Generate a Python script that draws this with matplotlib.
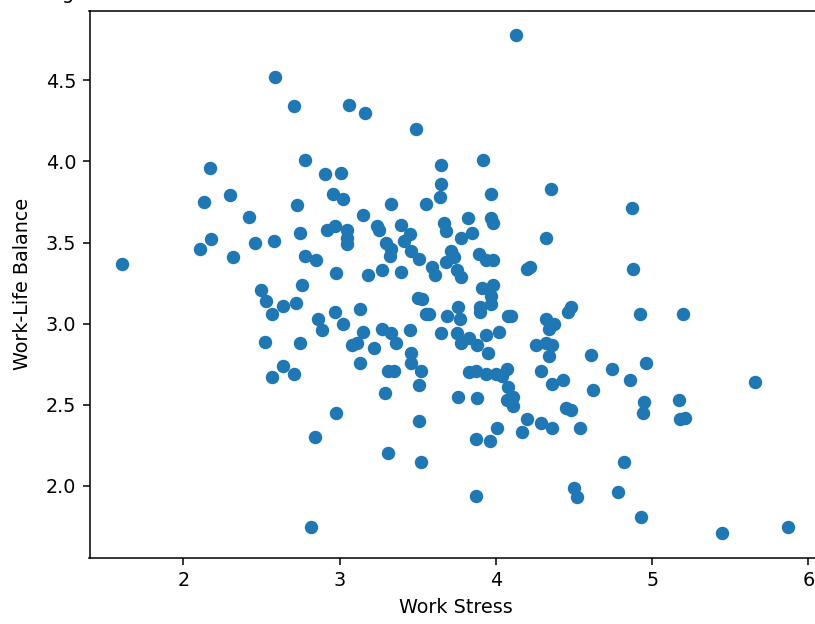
import numpy as np
import matplotlib
matplotlib.use("Agg")
import matplotlib.pyplot as plt

# valores (Work Stress, Work-Life Balance)
work_stress = [
    2.59, 2.71, 2.78, 2.17, 2.91, 3.01, 2.30, 2.13, 2.96, 2.73,
    4.13, 3.06, 3.16, 3.49, 3.65, 3.92, 3.65, 3.97, 4.35, 3.02,
    3.33, 3.55, 3.64,
    2.42, 2.92, 2.97, 2.75, 2.18, 2.11, 2.46, 2.58, 2.32, 2.78,
    2.85, 2.98, 1.61, 2.50, 2.76, 2.53, 2.64, 2.72, 2.57, 2.97,
    2.86, 2.89, 3.02, 2.52, 2.75, 2.64, 2.71, 2.57, 2.98, 2.84, 2.82,
    3.15, 3.82, 3.97, 3.98, 3.05, 3.24, 3.25, 3.39, 3.45, 3.41,
    3.67, 3.68, 3.78, 3.85, 4.32, 3.05, 3.05, 3.30, 3.33, 3.32,
    3.46, 3.51, 3.71, 3.68, 3.73, 3.89, 3.94, 3.98, 3.75, 3.78,
    3.59, 3.61, 4.20, 4.22, 3.18, 3.27, 3.39, 3.91, 3.98, 3.97,
    3.50, 3.53, 3.90, 3.97, 3.90, 3.76, 3.77, 3.13, 3.55, 3.57,
    3.69, 4.08, 4.10, 4.32, 4.37, 4.34, 4.46, 4.48, 3.15, 3.27,
    3.33, 3.36, 3.45, 3.65, 3.75, 3.78, 3.83, 3.88, 3.94, 3.95,
    4.02, 4.26, 4.32, 4.36, 4.34, 3.08, 3.11, 3.22, 3.46, 3.46,
    3.13, 3.31, 3.35, 3.52, 3.83, 3.87, 3.94, 4.00, 4.07, 4.29,
    4.36, 4.43,
    4.87, 4.88, 4.92, 5.20, 4.61, 4.96, 4.74, 4.86, 5.66,
    4.62, 4.95, 4.94, 5.17, 5.18, 5.21, 4.48, 4.54, 4.82, 4.50,
    4.52, 4.78, 4.93, 5.45, 5.87,
    3.51, 3.29, 4.04, 4.08, 4.07, 4.11, 4.11, 3.76, 3.88, 3.51,
    4.45, 4.20, 4.29, 4.36, 4.17, 4.01, 3.96, 3.87, 3.31, 3.52, 3.87,
]
work_life_balance = [
    4.52, 4.34, 4.01, 3.96, 3.92, 3.93, 3.79, 3.75, 3.80, 3.73,
    4.78, 4.35, 4.30, 4.20, 3.98, 4.01, 3.86, 3.80, 3.83, 3.77,
    3.74, 3.74, 3.78,
    3.66, 3.58, 3.60, 3.56, 3.52, 3.46, 3.50, 3.51, 3.41, 3.42,
    3.39, 3.31, 3.37, 3.21, 3.24, 3.14, 3.11, 3.13, 3.06, 3.07,
    3.03, 2.96, 3.00, 2.89, 2.88, 2.74, 2.69, 2.67, 2.45, 2.30, 1.75,
    3.67, 3.65, 3.65, 3.62, 3.58, 3.60, 3.58, 3.61, 3.55, 3.51,
    3.62, 3.57, 3.53, 3.56, 3.53, 3.53, 3.49, 3.50, 3.46, 3.42,
    3.45, 3.40, 3.45, 3.38, 3.41, 3.43, 3.39, 3.39, 3.33, 3.29,
    3.35, 3.30, 3.34, 3.35, 3.30, 3.33, 3.32, 3.22, 3.24, 3.17,
    3.16, 3.15, 3.10, 3.12, 3.07, 3.10, 3.03, 3.09, 3.06, 3.06,
    3.05, 3.05, 3.05, 3.03, 3.00, 2.97, 3.07, 3.10, 2.95, 2.97,
    2.94, 2.88, 2.96, 2.94, 2.94, 2.88, 2.91, 2.87, 2.93, 2.82,
    2.95, 2.87, 2.88, 2.87, 2.80, 2.87, 2.88, 2.85, 2.82, 2.76,
    2.76, 2.71, 2.71, 2.71, 2.70, 2.71, 2.69, 2.69, 2.72, 2.71,
    2.63, 2.65,
    3.71, 3.34, 3.06, 3.06, 2.81, 2.76, 2.72, 2.65, 2.64,
    2.59, 2.52, 2.45, 2.53, 2.41, 2.42, 2.47, 2.36, 2.15, 1.99,
    1.93, 1.96, 1.81, 1.71, 1.75,
    2.62, 2.57, 2.68, 2.61, 2.53, 2.55, 2.49, 2.55, 2.54, 2.40,
    2.48, 2.41, 2.39, 2.36, 2.33, 2.36, 2.28, 2.29, 2.20, 2.15, 1.94,
]

fig = plt.figure(figsize=(815/138, 624/138), dpi=138)
# eixo maior que a figura (a imagem original esta cortada a direita)
ax = fig.add_axes([89.5/815, 66/624, 733/815, 547.5/624])

ax.scatter(work_stress, work_life_balance)
ax.set_xlim(1.40, 6.09)
ax.set_ylim(1.556, 4.93)

ax.set_xlabel('Work Stress')
ax.set_ylabel('Work-Life Balance', labelpad=7)

# resto do titulo cortado no topo
fig.text(68/815, 1.0 + 1/624, 'g', ha='center', va='baseline')

fig.savefig('out.png', dpi=138)
